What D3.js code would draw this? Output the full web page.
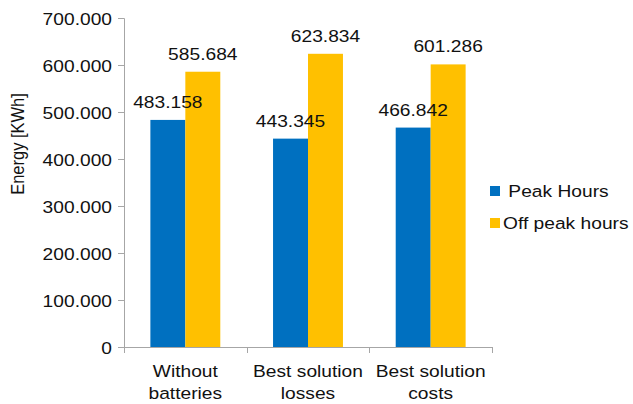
<!DOCTYPE html>
<html>
<head>
<meta charset="utf-8">
<script src="https://cdn.jsdelivr.net/npm/d3@7"></script>
<style>
  html, body { margin: 0; padding: 0; background: #fff; }
  svg { display: block; font-family: "Liberation Sans", Arial, sans-serif; }
  text { white-space: pre; }
</style>
</head>
<body>
<svg id="chart" width="633" height="404"></svg>
<script>
// Energy use per scenario, in kWh
const categories = [["Without", "batteries"], ["Best solution", "losses"], ["Best solution", "costs"]];
const seriesNames = [" Peak Hours", "Off peak hours"];
const peakHours = [483158, 443345, 466842];
const offPeakHours = [585684, 623834, 601286];
const yTicks = [0, 100000, 200000, 300000, 400000, 500000, 600000, 700000];
const yTitle = "Energy [KWh]";
const colors = ["#0070C0", "#FFC000"];

const series = [peakHours, offPeakHours];
const fmt = d3.formatLocale({ decimal: ",", thousands: ".", grouping: [3], currency: ["", ""] }).format(",d");

const svg = d3.select("#chart");
const stretch = 1.13; // wide text rendering
const fs = 17;

const x0 = d3.scaleBand().domain(d3.range(categories.length)).range([124, 492]).paddingInner(0.43).paddingOuter(0.215);
const x1 = d3.scaleBand().domain(d3.range(series.length)).range([0, x0.bandwidth()]);
const y = d3.scaleLinear().domain([0, 700000]).range([347, 18]);

const axisColor = "#a6a6a6";

function stretchedText(g, x, yy, str, anchor) {
  return g.append("text")
    .attr("transform", `translate(${x},${yy}) scale(${stretch},1)`)
    .attr("text-anchor", anchor)
    .attr("font-size", fs)
    .attr("fill", "#111")
    .text(str);
}

// Y axis
const yAxis = svg.append("g").attr("transform", "translate(124,0)")
  .call(d3.axisLeft(y).tickValues(yTicks).tickSize(6).tickPadding(6).tickFormat(fmt));
yAxis.select(".domain").attr("stroke", axisColor);
yAxis.selectAll(".tick line").attr("stroke", axisColor);
yAxis.selectAll(".tick text").remove();
yAxis.selectAll(".tick").each(function (d) {
  stretchedText(d3.select(this), -12, 6, fmt(d), "end");
});

// X axis with ticks at band boundaries
const bounds = d3.range(categories.length + 1).map(i => 124 + i * x0.step());
const xg = svg.append("g");
xg.append("line").attr("x1", 124).attr("x2", 492).attr("y1", 347.5).attr("y2", 347.5).attr("stroke", axisColor);
xg.selectAll("line.tk").data(bounds).join("line").attr("class", "tk")
  .attr("x1", d => Math.round(d) + 0.5).attr("x2", d => Math.round(d) + 0.5)
  .attr("y1", 347).attr("y2", 353).attr("stroke", axisColor);
categories.forEach((lines, i) => {
  const cx = x0(i) + x0.bandwidth() / 2;
  lines.forEach((ln, j) => stretchedText(svg, cx, 377 + j * 22, ln, "middle"));
});

// Bars
const groups = svg.append("g").selectAll("g").data(categories.map((c, i) => i)).join("g")
  .attr("transform", i => `translate(${x0(i)},0)`);
groups.selectAll("rect").data(i => series.map((s, k) => ({ k, v: s[i] }))).join("rect")
  .attr("x", d => x1(d.k)).attr("width", x1.bandwidth())
  .attr("y", d => y(d.v)).attr("height", d => y(0) - y(d.v))
  .attr("fill", d => colors[d.k]);
groups.each(function (i) {
  series.forEach((s, k) => {
    stretchedText(d3.select(this), x1(k) + x1.bandwidth() / 2, y(s[i]) - 12, fmt(s[i]), "middle");
  });
});

// Y title
svg.append("text")
  .attr("transform", `translate(24,144) scale(${stretch},1) rotate(-90)`)
  .attr("text-anchor", "middle").attr("font-size", 16.5).attr("fill", "#111")
  .text(yTitle);

// Legend
const leg = svg.append("g");
seriesNames.forEach((name, k) => {
  const ly = 186 + k * 32;
  leg.append("rect").attr("x", 490).attr("y", ly).attr("width", 10).attr("height", 10).attr("fill", colors[k]);
  stretchedText(leg, 503, ly + 10.5, name, "start");
});
</script>
</body>
</html>
